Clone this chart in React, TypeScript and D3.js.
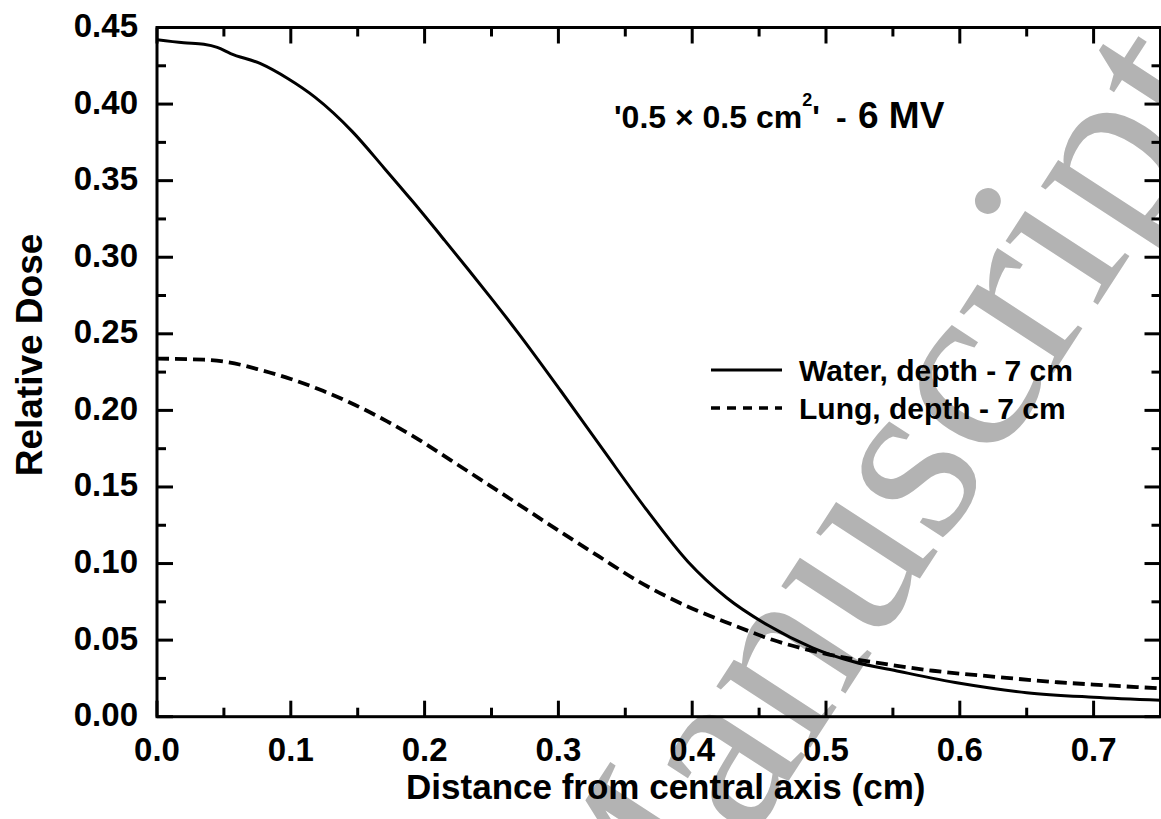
import React from 'react';
import * as d3 from 'd3';

// ---- data ----
const waterX = [0, 0.02, 0.035, 0.045, 0.055, 0.077, 0.098, 0.118, 0.146, 0.17, 0.191, 0.215, 0.234, 0.25, 0.27, 0.302, 0.334, 0.366, 0.397, 0.426, 0.457, 0.49, 0.52, 0.555, 0.6, 0.65, 0.7, 0.75];
const waterDose = [0.442, 0.44, 0.439, 0.437, 0.433, 0.4265, 0.4165, 0.4045, 0.382, 0.358, 0.3365, 0.311, 0.2905, 0.273, 0.2505, 0.2125, 0.1735, 0.135, 0.101, 0.0775, 0.0595, 0.045, 0.036, 0.0295, 0.0218, 0.0157, 0.0127, 0.0107];
const lungX = [0, 0.035, 0.052, 0.077, 0.1, 0.124, 0.14, 0.172, 0.195, 0.22, 0.26, 0.3, 0.33, 0.36, 0.395, 0.43, 0.46, 0.5, 0.54, 0.58, 0.627, 0.673, 0.7, 0.75];
const lungDose = [0.2338, 0.2331, 0.2316, 0.2265, 0.2205, 0.2128, 0.2068, 0.1928, 0.1812, 0.1672, 0.1445, 0.1216, 0.1048, 0.0883, 0.0726, 0.0601, 0.0502, 0.041, 0.035, 0.03, 0.026, 0.0225, 0.021, 0.0185];

const xMajorTicks = [0, 0.1, 0.2, 0.3, 0.4, 0.5, 0.6, 0.7];
const xMinorTicks = [0.05, 0.15, 0.25, 0.35, 0.45, 0.55, 0.65, 0.75];
const xTickLabels = ['0.0', '0.1', '0.2', '0.3', '0.4', '0.5', '0.6', '0.7'];
const yMajorTicks = [0, 0.05, 0.1, 0.15, 0.2, 0.25, 0.3, 0.35, 0.4, 0.45];
const yMinorTicks = [0.025, 0.075, 0.125, 0.175, 0.225, 0.275, 0.325, 0.375, 0.425];
const yTickLabels = ['0.00', '0.05', '0.10', '0.15', '0.20', '0.25', '0.30', '0.35', '0.40', '0.45'];

const seriesNames = ['Water, depth - 7 cm', 'Lung, depth - 7 cm'];
const xTitle = 'Distance from central axis (cm)';
const yTitle = 'Relative Dose';
const watermark = 'Manuscript';

const W = 1161;
const H = 819;
const L = 157;
const R = 1160.5;
const T = 27.5;
const B = 716.7;

const FONT = '"Liberation Sans", Arial, Helvetica, sans-serif';

export default function App() {
  const x = d3.scaleLinear().domain([0, 0.75]).range([L, R]);
  const y = d3.scaleLinear().domain([0, 0.45]).range([B, T]);

  const line = d3
    .line<[number, number]>()
    .x((d) => x(d[0]))
    .y((d) => y(d[1]))
    .curve(d3.curveMonotoneX);

  const waterPath = line(waterX.map((v, i) => [v, waterDose[i]]) as [number, number][]) || '';
  const lungPath = line(lungX.map((v, i) => [v, lungDose[i]]) as [number, number][]) || '';

  const MAJ = 16;
  const MIN = 9;
  const sw = 3;

  // watermark geometry
  const wmAngle = -57;
  const wmX = 630;
  const wmY = 1025;

  return (
    <svg
      width={W}
      height={H}
      viewBox={`0 0 ${W} ${H}`}
      style={{ position: 'absolute', left: 0, top: 0, background: '#fff' }}
    >
      <rect x={0} y={0} width={W} height={H} fill="#fff" />
      <defs>
        <clipPath id="plotClip">
          <rect x={L} y={T} width={R - L} height={B - T} />
        </clipPath>
      </defs>

      {/* watermark */}
      <text
        x={wmX}
        y={wmY}
        transform={`rotate(${wmAngle}, ${wmX}, ${wmY})`}
        fontFamily='"Liberation Serif", "Times New Roman", serif'
        fontSize={244}
        fill="#b3b3b3"
      >
        {watermark}
      </text>

      {/* curves */}
      <g clipPath="url(#plotClip)" fill="none">
        <path d={waterPath} stroke="#000" strokeWidth={3} />
        <path d={lungPath} stroke="#000" strokeWidth={3.8} strokeDasharray="12 6" />
      </g>

      {/* frame */}
      <rect x={L} y={T} width={R - L} height={B - T} fill="none" stroke="#000" strokeWidth={sw} />

      {/* ticks on all four sides, pointing inwards */}
      {xMajorTicks.map((t) => (
        <g key={'xM' + t}>
          <line x1={x(t)} x2={x(t)} y1={B} y2={B - MAJ} stroke="#000" strokeWidth={sw} />
          <line x1={x(t)} x2={x(t)} y1={T} y2={T + MAJ} stroke="#000" strokeWidth={sw} />
        </g>
      ))}
      {xMinorTicks.map((t) => (
        <g key={'xm' + t}>
          <line x1={x(t)} x2={x(t)} y1={B} y2={B - MIN} stroke="#000" strokeWidth={sw} />
          <line x1={x(t)} x2={x(t)} y1={T} y2={T + MIN} stroke="#000" strokeWidth={sw} />
        </g>
      ))}
      {yMajorTicks.map((t) => (
        <g key={'yM' + t}>
          <line x1={L} x2={L + MAJ} y1={y(t)} y2={y(t)} stroke="#000" strokeWidth={sw} />
          <line x1={R} x2={R - MAJ} y1={y(t)} y2={y(t)} stroke="#000" strokeWidth={sw} />
        </g>
      ))}
      {yMinorTicks.map((t) => (
        <g key={'ym' + t}>
          <line x1={L} x2={L + MIN} y1={y(t)} y2={y(t)} stroke="#000" strokeWidth={sw} />
          <line x1={R} x2={R - MIN} y1={y(t)} y2={y(t)} stroke="#000" strokeWidth={sw} />
        </g>
      ))}

      {/* tick labels */}
      <g fontFamily={FONT} fontWeight="bold" fontSize={33} fill="#000">
        {xMajorTicks.map((t, i) => (
          <text key={'xl' + t} x={x(t)} y={761} textAnchor="middle">
            {xTickLabels[i]}
          </text>
        ))}
        {yMajorTicks.map((t, i) => (
          <text key={'yl' + t} x={138} y={y(t) + 9.5} textAnchor="end">
            {yTickLabels[i]}
          </text>
        ))}
      </g>

      {/* axis titles */}
      <text
        x={(L + R) / 2 + 7}
        y={799}
        textAnchor="middle"
        fontFamily={FONT}
        fontWeight="bold"
        fontSize={35}
      >
        {xTitle}
      </text>
      <text
        transform="translate(42, 355) rotate(-90)"
        textAnchor="middle"
        fontFamily={FONT}
        fontWeight="bold"
        fontSize={37}
      >
        {yTitle}
      </text>

      {/* title */}
      <text x={614} y={128} fontFamily={FONT} fontWeight="bold" fontSize={32}>
        <tspan>'0.5 × 0.5 cm</tspan>
        <tspan fontSize={18} dy={-22}>2</tspan>
        <tspan dy={22}>'</tspan>
        <tspan x={836}>-</tspan>
        <tspan x={858} fontSize={37}>6 MV</tspan>
      </text>

      {/* legend */}
      <line x1={711} x2={782} y1={370} y2={370} stroke="#000" strokeWidth={3} />
      <line x1={711} x2={782} y1={408} y2={408} stroke="#000" strokeWidth={3.6} strokeDasharray="9 7" />
      <g fontFamily={FONT} fontWeight="bold" fontSize={30} fill="#000">
        <text x={799} y={381}>{seriesNames[0]}</text>
        <text x={799} y={419}>{seriesNames[1]}</text>
      </g>
    </svg>
  );
}
